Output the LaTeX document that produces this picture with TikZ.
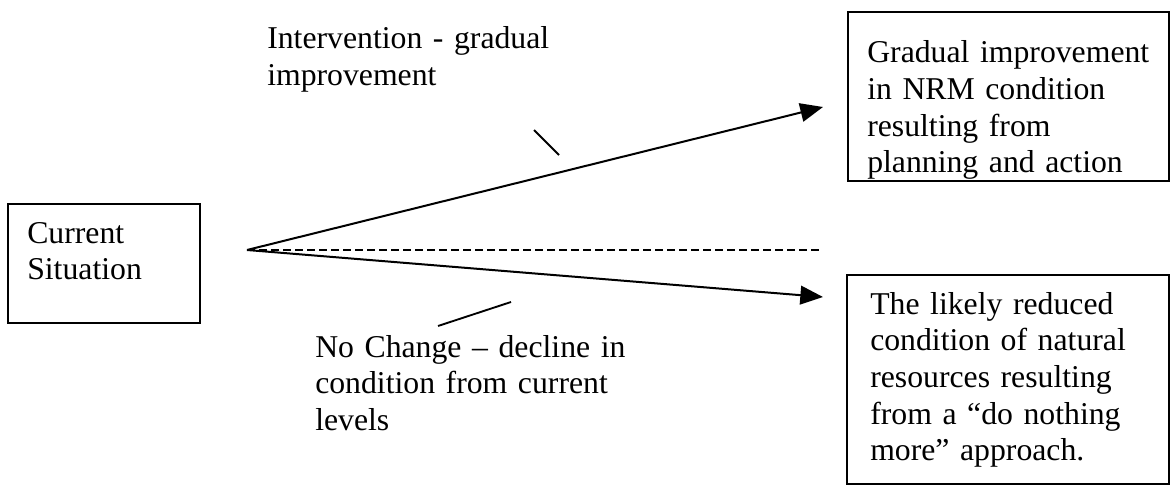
\documentclass[tikz,border=0pt]{standalone}
\usepackage{fontspec}
\setmainfont{Liberation Serif}
\usetikzlibrary{arrows.meta}
\begin{document}
\begin{tikzpicture}[x=0.75pt,y=-0.75pt,
  box/.style={draw=black,line width=1.5pt,rectangle,inner sep=0pt,anchor=north west},
  txt/.style={inner sep=0pt,anchor=base west,align=left,text width=#1,
    font=\fontsize{23.8}{27.5}\selectfont},
  txt/.default=240pt,
  trend/.style={line width=1.5pt,-{Triangle[length=17pt,width=14pt]}},
  lead/.style={line width=1.4pt},
  level/.style={line width=1.1pt,dash pattern=on 6pt off 3pt}]
\useasboundingbox (0,0) rectangle (1170,485);

% boxes
\node[box,minimum width=192*0.75pt,minimum height=119*0.75pt] (cur) at (7,203) {};
\node[box,minimum width=321*0.75pt,minimum height=169*0.75pt] (good) at (847,11) {};
\node[box,minimum width=322*0.75pt,minimum height=209*0.75pt] (bad) at (846,274) {};

% box texts
\node[txt=140pt] (curtxt) at (27,243) {Current\\Situation};
\node[txt] (goodtxt) at (867,63) {Gradual improvement\\in NRM condition\\resulting from\\planning and action};
\node[txt] (badtxt) at (870,314) {The likely reduced\\condition of natural\\resources resulting\\from a “do nothing\\more” approach.};

% labels
\node[txt=300pt] (uplab) at (267,49) {Intervention - gradual\\improvement};
\node[txt=300pt] (downlab) at (315,357) {No Change – decline in\\condition from current\\levels};

% trend lines from the current situation
\coordinate (o) at (247,250);
\coordinate (upend) at (823,107);
\coordinate (downend) at (823,297);
\coordinate (flatend) at (822,250);
\draw[trend] (o) -- (upend);
\draw[trend] (o) -- (downend);
\draw[level] (o) -- (flatend);

% leader strokes from the labels to the lines
\coordinate (u1) at (534,130);
\coordinate (u2) at (559,155);
\coordinate (d1) at (438,326);
\coordinate (d2) at (511,302);
\draw[lead] (u1) -- (u2);
\draw[lead] (d1) -- (d2);
\end{tikzpicture}
\end{document}
